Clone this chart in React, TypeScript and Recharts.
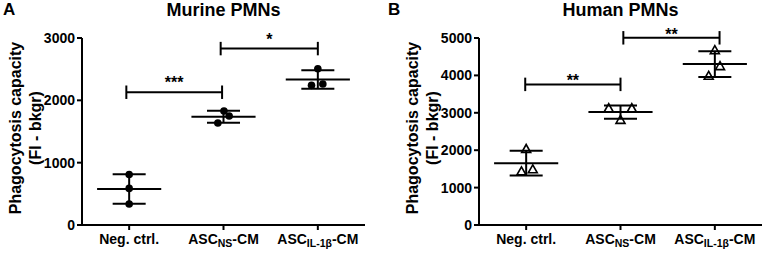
import React from "react"
import { ScatterChart, Scatter, XAxis, YAxis, ReferenceLine } from "recharts"

const categories = [
  { main: "Neg. ctrl.", sub: "", tail: "" },
  { main: "ASC", sub: "NS", tail: "-CM" },
  { main: "ASC", sub: "IL-1β", tail: "-CM" },
]

// murine PMNs, three donors per group
const murineValues = [
  [811, 587, 336],
  [1829, 1749, 1637],
  [2507, 2240, 2261],
]
const murineJitter = [
  [0, 0, 0],
  [0.005, 0.06, -0.06],
  [0, -0.067, 0.053],
]
const murineTicks = [0, 1000, 2000, 3000]
const murineBrackets = [
  { from: -0.03, to: 0.985, y: 2130, stars: "***" },
  { from: 0.97, to: 2.0, y: 2830, stars: "*" },
]

// human PMNs
const humanValues = [
  [2032, 1436, 1489],
  [3122, 3122, 2811],
  [4673, 4247, 3989],
]
const humanJitter = [
  [0, -0.05, 0.07],
  [-0.125, 0.12, 0],
  [0, 0.055, -0.065],
]
const humanTicks = [0, 1000, 2000, 3000, 4000, 5000]
const humanBrackets = [
  { from: -0.01, to: 1.0, y: 3760, stars: "**" },
  { from: 1.03, to: 2.05, y: 5005, stars: "**" },
]

const FONT = "'Liberation Sans', Arial, sans-serif"
const BLACK = "#000"

const stats = (group: number[]) => {
  const mean = group.reduce((a, b) => a + b, 0) / group.length
  const sd = Math.sqrt(group.reduce((a, b) => a + (b - mean) ** 2, 0) / (group.length - 1))
  return { mean, sd }
}

function CategoryTick({ x, y, payload }: any) {
  const c = categories[payload.value]
  if (!c) return null
  return (
    <text x={x} y={y} dy={12} textAnchor="middle" fontFamily={FONT} fontWeight="bold" fontSize={14} fill={BLACK}>
      {c.main}
      {c.sub ? (
        <tspan fontSize={10.5} dy={3}>
          {c.sub}
        </tspan>
      ) : null}
      {c.tail ? <tspan dy={c.sub ? -3 : 0}>{c.tail}</tspan> : null}
    </text>
  )
}

function YLabel({ axisRight }: { axisRight: number }) {
  const cy = 128
  const lines = [
    { text: "Phagocytosis capacity", cx: axisRight - 67 },
    { text: "(FI - bkgr)", cx: axisRight - 47 },
  ]
  return (
    <g>
      {lines.map((l) => (
        <text
          key={l.text}
          x={l.cx}
          y={cy}
          transform={`rotate(-90, ${l.cx}, ${cy})`}
          textAnchor="middle"
          dominantBaseline="central"
          fontFamily={FONT}
          fontWeight="bold"
          fontSize={16}
          fill={BLACK}
        >
          {l.text}
        </text>
      ))}
    </g>
  )
}

const circle = ({ cx, cy }: any) => <circle cx={cx} cy={cy} r={3.8} fill={BLACK} />
const triangle = ({ cx, cy }: any) => (
  <path
    d={`M${cx},${cy - 4.5} L${cx - 4.5},${cy + 3.5} L${cx + 4.5},${cy + 3.5} Z`}
    fill="none"
    stroke={BLACK}
    strokeWidth={1.6}
  />
)

interface PanelProps {
  letter: string
  title: string
  values: number[][]
  jitter: number[][]
  ticks: number[]
  brackets: { from: number; to: number; y: number; stars: string }[]
  starOffset: number
  marker: any
  left: number
  width: number
  axisWidth: number
}

function Panel({ letter, title, values, jitter, ticks, brackets, starOffset, marker, left, width, axisWidth }: PanelProps) {
  const yMax = ticks[ticks.length - 1]
  const points = values.flatMap((group, i) => group.map((v, j) => ({ x: i + jitter[i][j], y: v })))
  const groupStats = values.map(stats)
  const capH = yMax * 0.036
  const plotRight = axisWidth + 283
  const line = { stroke: BLACK, strokeWidth: 2, ifOverflow: "visible" as const }

  return (
    <div style={{ position: "absolute", left, top: 0, width, height: 254 }}>
      <div style={{ position: "absolute", left: 3, top: 1, fontFamily: FONT, fontWeight: "bold", fontSize: 17, lineHeight: "18px" }}>
        {letter}
      </div>
      <div
        style={{
          position: "absolute",
          left: axisWidth,
          width: plotRight - axisWidth,
          top: 1,
          textAlign: "center",
          fontFamily: FONT,
          fontWeight: "bold",
          fontSize: 18,
          lineHeight: "18px",
        }}
      >
        {title}
      </div>
      <ScatterChart width={width} height={254} margin={{ top: 38, right: width - plotRight, bottom: 0, left: 0 }}>
        <XAxis
          type="number"
          dataKey="x"
          domain={[-0.5, 2.5]}
          ticks={[0, 1, 2]}
          tick={<CategoryTick />}
          tickSize={5}
          tickMargin={2}
          height={29}
          axisLine={{ stroke: BLACK, strokeWidth: 2 }}
          tickLine={{ stroke: BLACK, strokeWidth: 2 }}
          allowDataOverflow
        />
        <YAxis
          type="number"
          dataKey="y"
          domain={[0, yMax]}
          ticks={ticks}
          width={axisWidth}
          tickSize={5}
          tickMargin={2}
          tick={{ fill: BLACK, fontSize: 14, fontWeight: "bold", fontFamily: FONT }}
          axisLine={{ stroke: BLACK, strokeWidth: 2 }}
          tickLine={{ stroke: BLACK, strokeWidth: 2 }}
          label={<YLabel axisRight={axisWidth} />}
          allowDataOverflow
        />
        {groupStats.flatMap((s, i) => [
          <ReferenceLine key={`m${i}`} segment={[{ x: i - 0.34, y: s.mean }, { x: i + 0.34, y: s.mean }]} {...line} />,
          <ReferenceLine key={`u${i}`} segment={[{ x: i - 0.175, y: s.mean + s.sd }, { x: i + 0.175, y: s.mean + s.sd }]} {...line} />,
          <ReferenceLine key={`l${i}`} segment={[{ x: i - 0.175, y: s.mean - s.sd }, { x: i + 0.175, y: s.mean - s.sd }]} {...line} />,
          <ReferenceLine key={`v${i}`} segment={[{ x: i, y: s.mean - s.sd }, { x: i, y: s.mean + s.sd }]} {...line} />,
        ])}
        {brackets.flatMap((b, i) => [
          <ReferenceLine
            key={`b${i}`}
            segment={[{ x: b.from, y: b.y }, { x: b.to, y: b.y }]}
            {...line}
            label={{ value: b.stars, position: "top", offset: starOffset, fill: BLACK, fontSize: 16, fontWeight: "bold", fontFamily: FONT }}
          />,
          <ReferenceLine key={`bl${i}`} segment={[{ x: b.from, y: b.y - capH }, { x: b.from, y: b.y + capH }]} {...line} />,
          <ReferenceLine key={`br${i}`} segment={[{ x: b.to, y: b.y - capH }, { x: b.to, y: b.y + capH }]} {...line} />,
        ])}
        <Scatter data={points} shape={marker} isAnimationActive={false} />
      </ScatterChart>
    </div>
  )
}

export default function App() {
  return (
    <div style={{ position: "absolute", left: 0, top: 0, width: 765, height: 254, background: "#fff" }}>
      <Panel
        letter="A"
        title="Murine PMNs"
        values={murineValues}
        jitter={murineJitter}
        ticks={murineTicks}
        brackets={murineBrackets}
        starOffset={4}
        marker={circle}
        left={0}
        width={385}
        axisWidth={82}
      />
      <Panel
        letter="B"
        title="Human PMNs"
        values={humanValues}
        jitter={humanJitter}
        ticks={humanTicks}
        brackets={humanBrackets}
        starOffset={-2}
        marker={triangle}
        left={385}
        width={380}
        axisWidth={94}
      />
    </div>
  )
}
